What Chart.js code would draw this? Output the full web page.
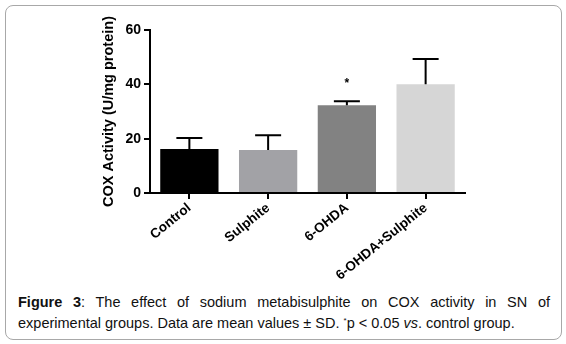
<!DOCTYPE html>
<html>
<head>
<meta charset="utf-8">
<script src="https://cdn.jsdelivr.net/npm/chart.js@4"></script>
<style>
  body { margin: 0; background: #fff; font-family: "Liberation Sans", Arial, sans-serif; }
  #frame { position: absolute; left: 5px; top: 5px; width: 557px; height: 335px;
           border: 1px solid #a8a8a8; border-radius: 8px; box-sizing: border-box; }
  #wrap { position: absolute; left: 0; top: 0; width: 566px; height: 290px; }
  #caption { position: absolute; left: 18px; top: 292px; width: 532px; margin: 0;
             font-size: 14.5px; line-height: 21px; text-align: justify; text-align-last: left; color: #111; }
  .star { font-size: 8px; position: relative; top: -5px; line-height: 0; }
</style>
</head>
<body>
<div id="frame"></div>
<div id="wrap"><canvas id="chart"></canvas></div>
<p id="caption"><b>Figure 3</b>: The effect of sodium metabisulphite on COX activity in SN of experimental groups. Data are mean values ± SD. <span class="star">*</span>p &lt; 0.05 <i>vs</i>. control group.</p>
<script>
document.addEventListener("DOMContentLoaded", () => {

    const labels = ["Control", "Sulphite", "6-OHDA", "6-OHDA+Sulphite"];
    const means = [16.2, 15.8, 32.3, 40.0];
    const sd = [4.0, 5.5, 1.5, 9.3];
    const marks = ["", "", "*", ""];
    const yTicks = [0, 20, 40, 60];

    // error bars + significance stars, drawn from the scales
    const errorBars = {
        id: "errorBars",
        afterDatasetsDraw(chart) {
            const { ctx, scales: { x, y } } = chart;
            ctx.save();
            ctx.strokeStyle = "#000";
            ctx.lineWidth = 2;
            means.forEach((m, i) => {
                const cx = x.getPixelForValue(i);
                const top = y.getPixelForValue(m + sd[i]);
                const base = y.getPixelForValue(m);
                ctx.beginPath();
                ctx.moveTo(cx, base);
                ctx.lineTo(cx, top);
                ctx.moveTo(cx - 13, top);
                ctx.lineTo(cx + 13, top);
                ctx.stroke();
                if (marks[i]) {
                    ctx.fillStyle = "#000";
                    ctx.font = "bold 12px 'Liberation Sans', Arial";
                    ctx.textAlign = "center";
                    ctx.textBaseline = "middle";
                    ctx.fillText(marks[i], cx, top - 17);
                }
            });
            ctx.restore();
        }
    };

    const ctx = document.getElementById("chart");

    new Chart(ctx, {
        type: "bar",
        data: {
            labels: labels,
            datasets: [{
                data: means,
                backgroundColor: ["#000000", "#a2a2a6", "#828282", "#d6d6d6"],
                barPercentage: 0.74,
                categoryPercentage: 1
            }]
        },
        options: {
            responsive: true,
            maintainAspectRatio: false,
            animation: false,
            layout: { padding: { left: 95, right: 101, top: 30, bottom: 0 } },
            plugins: {
                legend: { display: false },
                tooltip: { enabled: false }
            },
            scales: {
                x: {
                    afterFit: s => { s.height = 97; },
                    border: { color: "#000", width: 2 },
                    grid: { drawOnChartArea: false, offset: false, tickLength: 6, color: "#000", lineWidth: 2 },
                    ticks: {
                        color: "#000",
                        font: { family: "'Liberation Sans', Arial", size: 13.5, weight: "bold" },
                        minRotation: 39, maxRotation: 39, padding: 1
                    }
                },
                y: {
                    min: 0, max: 60,
                    afterFit: s => { s.width = 55; },
                    afterBuildTicks: s => { s.ticks = yTicks.map(v => ({ value: v })); },
                    border: { color: "#000", width: 2 },
                    grid: { drawOnChartArea: false, tickLength: 6, color: "#000", lineWidth: 2 },
                    ticks: {
                        color: "#000", padding: 3,
                        font: { family: "'Liberation Sans', Arial", size: 14, weight: "bold" }
                    },
                    title: {
                        display: true,
                        text: "COX Activity (U/mg protein)",
                        color: "#000",
                        padding: { top: 5, bottom: 0 },
                        font: { family: "'Liberation Sans', Arial", size: 14.5, weight: "bold" }
                    }
                }
            }
        },
        plugins: [errorBars]
    });

});
</script>
</body>
</html>
